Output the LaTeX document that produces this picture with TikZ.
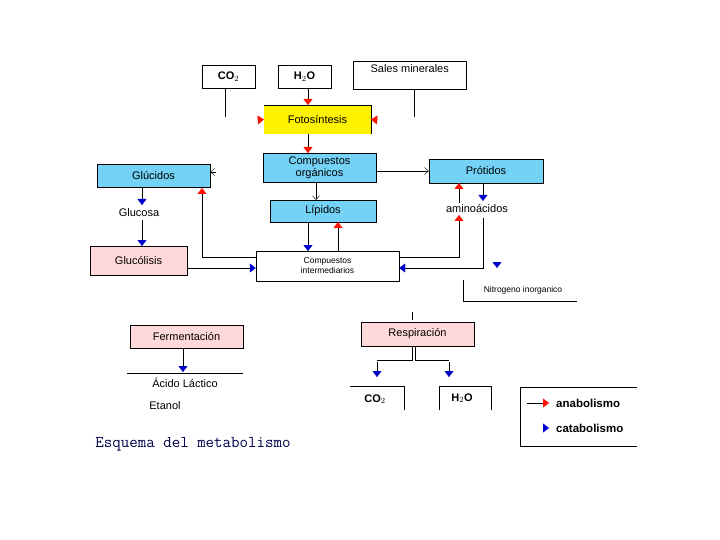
\documentclass[tikz,border=0pt]{standalone}
\usepackage{fontspec}
\setmainfont{Liberation Sans}
\usetikzlibrary{arrows.meta}

\begin{document}
\begin{tikzpicture}[x=1pt, y=-1pt,
    box/.style={draw, inner sep=0pt, font=\fontsize{11}{12}\selectfont, align=center},
    lbl/.style={inner sep=0pt, font=\fontsize{11}{12}\selectfont, align=center},
    ana/.style={-{Triangle[red!85!orange, width=9pt, length=6pt]}},
    cata/.style={-{Triangle[blue!80!black, width=9pt, length=6pt]}},
    open/.style={-{Straight Barb[length=4pt, width=7pt]}}
]
\useasboundingbox (0,0) rectangle (720,540);

% Top inputs
\node[box, minimum width=53pt, minimum height=23pt, font=\bfseries\fontsize{11}{12}\selectfont] (co2in) at (228.5,76.5) {CO$_2$};
\node[box, minimum width=53pt, minimum height=23pt, font=\bfseries\fontsize{11}{12}\selectfont] (h2oin) at (304.5,76.5) {H$_2$O};
\node[box, minimum width=113pt, minimum height=28pt, anchor=north west, text depth=14pt] (sales) at (353,61) {Sales minerales};
\coordinate (co2end) at (225,117);
\coordinate (salesend) at (414,117);
\draw (co2in.south -| co2end) -- (co2end);
\draw (sales.south -| salesend) -- (salesend);

% Fotosintesis
\node[box, draw=none, fill=yellow, minimum width=107pt, minimum height=29pt] (foto) at (317.5,119.5) {Fotosíntesis};
\draw (foto.north west) -- (foto.north east) -- (foto.south east);
\coordinate (fl) at (257,120);
\coordinate (fr) at (378,120);
\draw[ana] (fl) -- (foto.west);
\draw[ana] (fr) -- (foto.east);
\draw[ana] (h2oin.south -| 308,0) -- (308,105);

% Compuestos organicos
\node[box, fill=cyan!55, minimum width=113pt, minimum height=29pt] (org) at (319.5,167.5) {Compuestos\\orgánicos};
\draw[ana] (308,134) -- (308,153);
\node[box, fill=cyan!55, minimum width=113pt, minimum height=23pt] (gluc) at (153.5,175.5) {Glúcidos};
\coordinate (glucend) at (216,172);
\draw[open] (glucend) -- (gluc.east |- glucend);
\node[box, fill=cyan!55, minimum width=114pt, minimum height=24pt] (prot) at (486,171) {Prótidos};
\draw[open] (org.east |- 0,171) -- (prot.west |- 0,171);
\node[box, fill=cyan!55, minimum width=106pt, minimum height=22pt] (lip) at (323,211) {Lípidos};
\draw[open] (316,182) -- (316,200);

% Glucolisis branch
\node[lbl] (glucosa) at (139,213) {Glucosa};
\draw[cata] (142,187) -- (142,205);
\node[box, fill=red!15, minimum width=97pt, minimum height=29pt] (glyc) at (138.5,260.5) {Glucólisis};
\draw[cata] (142,220) -- (142,246);

% Compuestos intermedios
\node[box, minimum width=143pt, minimum height=30pt, font=\fontsize{8.5}{10}\selectfont] (inter) at (327.5,266) {Compuestos\\intermediarios};
\draw[cata] (glyc.east |- 0,268) -- (inter.west |- 0,268);
\draw[ana] (inter.west |- 0,257) -| (202,188);
\draw[cata] (308,222) -- (308,251);
\draw[ana] (338,251) -- (338,222);

% Aminoacidos
\node[lbl] (amino) at (477,209) {aminoácidos};
\draw[ana] (inter.east |- 0,257) -| (459,215);
\draw[ana] (459,203) -- (459,183);
\draw[cata] (483,183) -- (483,201);
\draw[cata] (483,218) |- (inter.east |- 0,268);
\coordinate (nfree) at (497,262);
\draw[cata] (nfree) -- ++(0,6);

% Nitrogeno inorganico
\node[lbl, font=\fontsize{8.5}{10}\selectfont] (nitro) at (523,290) {Nitrogeno inorganico};
\draw (463,280) |- (577,301);

% Respiracion
\node[box, fill=red!15, minimum width=113pt, minimum height=24pt] (resp) at (417.5,334) {Respiración};
\draw (412,312) -- (412,320);
\draw (412,346) -- (412,360) -| (377,360);
\draw (415,346) -- (415,360) -| (449,360);
\coordinate (co2top) at (377,362);
\coordinate (h2otop) at (449,362);
\draw[cata] (co2top) -- (377,377);
\draw[cata] (h2otop) -- (449,377);
\node[lbl, font=\bfseries\fontsize{11}{12}\selectfont] (co2out) at (375,399) {CO$_2$};
\node[lbl, font=\bfseries\fontsize{11}{12}\selectfont] (h2oout) at (462,398) {H$_2$O};
\draw (350,386) -- (404,386) -- (404,410);
\draw (439,410) -- (439,386) -- (491,386) -- (491,410);

% Fermentacion
\node[box, fill=red!15, minimum width=113pt, minimum height=23pt] (ferm) at (186.5,336.5) {Fermentación};
\draw[cata] (ferm.south -| 183,0) -- (183,372);
\draw (127,373) -- (243,373);
\node[lbl] (lact) at (185,383) {Ácido Láctico};
\node[lbl] (etanol) at (165,406) {Etanol};

% Legend
\draw (637,387) -- (520,387) -- (520,446) -- (637,446);
\coordinate (la) at (527,403);
\draw[ana] (la) -- (549,403);
\node[lbl, anchor=west, font=\bfseries\fontsize{11.5}{12}\selectfont] (anab) at (556,403) {anabolismo};
\coordinate (lc) at (543,428);
\draw[cata] (lc) -- (549,428);
\node[lbl, anchor=west, font=\bfseries\fontsize{11.5}{12}\selectfont] (catab) at (556,428) {catabolismo};

% Caption
\node[lbl, font=\ttfamily\fontsize{16.5}{18}\selectfont, text=blue!30!black] (caption) at (193,444) {Esquema del metabolismo};
\end{tikzpicture}
\end{document}
